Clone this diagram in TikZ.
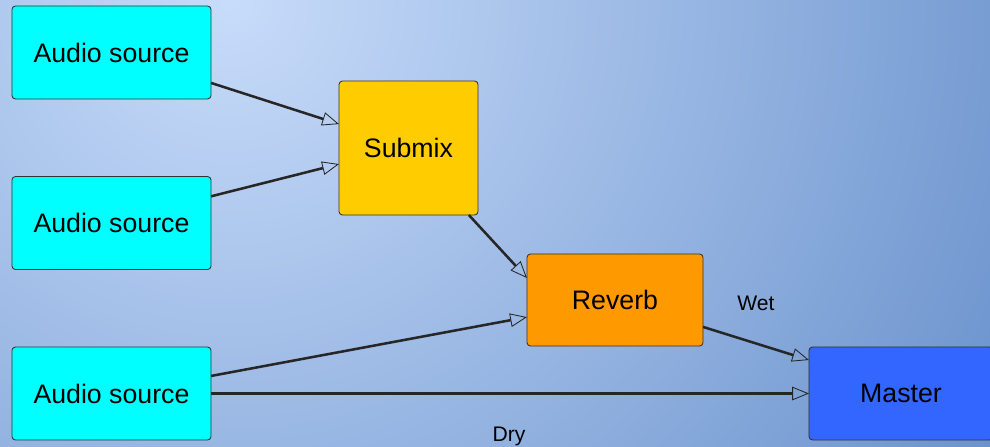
\documentclass[tikz,border=0pt]{standalone}
\usepackage{fontspec}
\setmainfont{Liberation Sans}
\usetikzlibrary{arrows.meta}

% box and arrow looks
\tikzset{
  box/.style={draw=black!80, line width=0.6pt, rounded corners=2.5pt,
    inner sep=0pt, outer sep=0pt, font=\fontsize{19}{22}\selectfont},
  src/.style={box, fill={rgb,255:red,0;green,255;blue,255},
    minimum width=4.975cm, minimum height=2.325cm},
  feed/.style={draw=black!85, line width=1.8pt,
    -{Triangle[open, length=0.42cm, width=0.34cm, line width=0.6pt]}},
  tag/.style={font=\fontsize{15}{18}\selectfont}
}

\begin{document}
\begin{tikzpicture}[x=0.025cm, y=-0.025cm]
% backdrop, brightest near the top left
\useasboundingbox (0,0) rectangle (990,446);
\begin{scope}
\clip (0,0) rectangle (990,446);
\shade[inner color={rgb,255:red,200;green,220;blue,250},
       outer color={rgb,255:red,107;green,147;blue,205}] (230,0) circle (22.025cm);
\end{scope}

% the three sources
\node[src] (src1) at (111.5,52.5) {Audio source};
\node[src] (src2) at (111.5,223) {Audio source};
\node[src] (src3) at (111.5,393.5) {Audio source};

% busses
\node[box, fill={rgb,255:red,255;green,204;blue,0}, minimum width=3.475cm, minimum height=3.35cm] (submix) at (408.5,148) {Submix};
\node[box, fill={rgb,255:red,255;green,153;blue,0}, minimum width=4.4cm, minimum height=2.3cm] (reverb) at (615,300) {Reverb};
\node[box, fill={rgb,255:red,51;green,102;blue,255}, minimum width=4.6cm, minimum height=2.325cm] (master) at (901,393.5) {Master};

% routing
\draw[feed] (src1.-17.6) -- (submix.161.7);
\draw[feed] (src2.15.2) -- (submix.-167);
\draw[feed] (submix.-48.4) -- (reverb.166);
\draw[feed] (src3.10.5) -- (reverb.-169.7);
\draw[feed] (src3.east) -- (master.west);
\draw[feed] (reverb.-17.7) -- (master.160.5);

% send labels
\node[tag] (wet) at (756,303) {Wet};
\node[tag] (dry) at (509,436) {Dry};
\end{tikzpicture}
\end{document}
